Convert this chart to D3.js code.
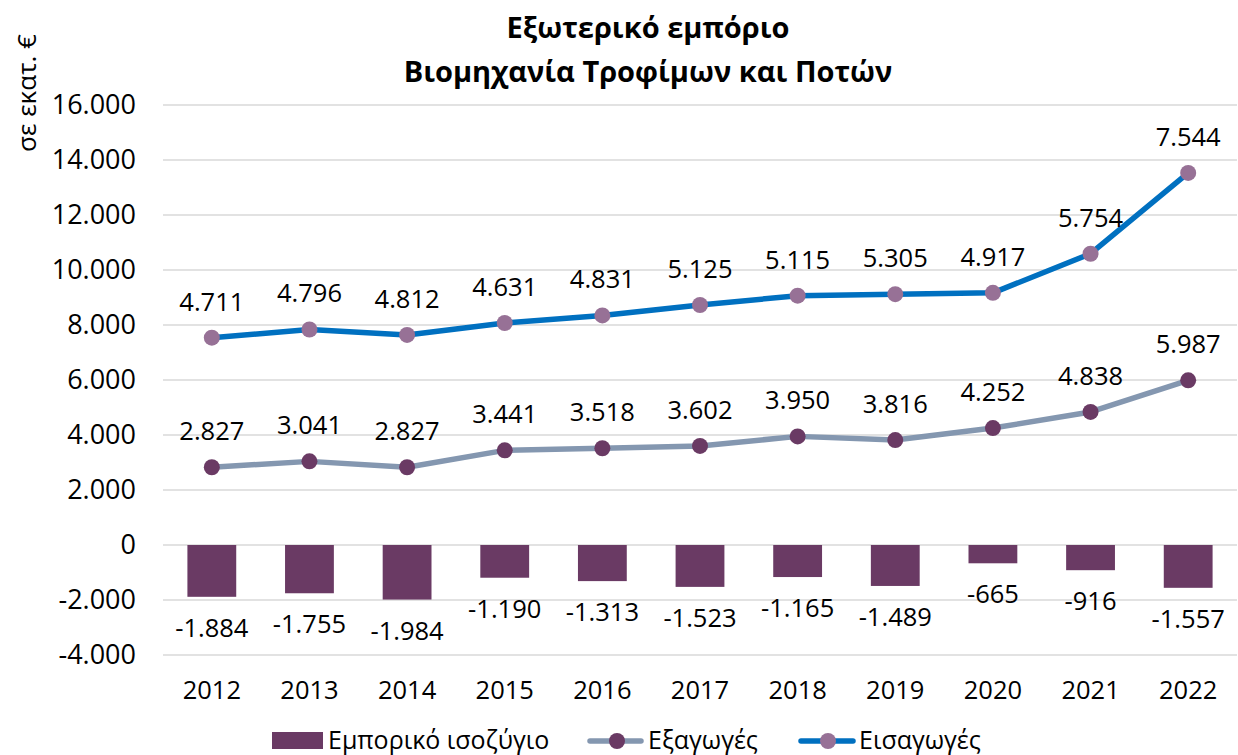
<!DOCTYPE html>
<html>
<head>
<meta charset="utf-8">
<script src="https://cdn.jsdelivr.net/npm/d3@7"></script>
<style>
  body { margin: 0; background: #fff; }
  text { font-family: "Open Sans", "Liberation Sans", Arial, sans-serif; fill: #000; }
</style>
</head>
<body>
<div id="chart"></div>
<script>
// Data
const years = ["2012", "2013", "2014", "2015", "2016", "2017", "2018", "2019", "2020", "2021", "2022"];
const exportsVals = [2827, 3041, 2827, 3441, 3518, 3602, 3950, 3816, 4252, 4838, 5987];
const importsVals = [4711, 4796, 4812, 4631, 4831, 5125, 5115, 5305, 4917, 5754, 7544];
const balanceVals = [-1884, -1755, -1984, -1190, -1313, -1523, -1165, -1489, -665, -916, -1557];
const yTicks = [-4000, -2000, 0, 2000, 4000, 6000, 8000, 10000, 12000, 14000, 16000];

const W = 1238, H = 755;
const margin = { top: 105, right: 1, bottom: 100, left: 163 };
const width = W - margin.left - margin.right;   // 1074
const height = 550;
const font = "'Open Sans', 'Liberation Sans', Arial, sans-serif";

const locale = d3.formatLocale({ decimal: ",", thousands: ".", grouping: [3], currency: ["", "€"], minus: "-" });
const fmt = locale.format(",d");

const svg = d3.select("#chart").append("svg")
    .attr("width", W)
    .attr("height", H);

// Title
svg.append("text").attr("x", 648).attr("y", 38).attr("text-anchor", "middle")
    .style("font-size", "29px").style("font-weight", "bold").text("Εξωτερικό εμπόριο");
svg.append("text").attr("x", 648).attr("y", 82).attr("text-anchor", "middle")
    .style("font-size", "29px").style("font-weight", "bold").text("Βιομηχανία Τροφίμων και Ποτών");

// Y axis title
svg.append("text").attr("transform", "translate(36,93) rotate(-90)")
    .attr("text-anchor", "middle").style("font-size", "26px").text("σε εκατ. €");

const g = svg.append("g").attr("transform", `translate(${margin.left},${margin.top})`);

const x = d3.scaleBand().domain(years).range([0, width]).paddingInner(0.5).paddingOuter(0.25);
const xc = d => x(d) + x.bandwidth() / 2;
const y = d3.scaleLinear().domain([-4000, 16000]).range([height, 0]);

// Gridlines
g.append("g").selectAll("line").data(yTicks).join("line")
    .attr("x1", 0).attr("x2", width)
    .attr("y1", d => y(d)).attr("y2", d => y(d))
    .attr("stroke", "#D9D9D9").attr("stroke-width", 1.3);

// Y axis labels
const yAxis = g.append("g")
    .call(d3.axisLeft(y).tickValues(yTicks).tickFormat(fmt).tickSize(0).tickPadding(27));
yAxis.select(".domain").remove();
yAxis.selectAll("text").style("font-size", "27px").style("font-family", font).attr("fill", "#000");

// X axis labels
const xAxis = g.append("g").attr("transform", `translate(0,${height})`)
    .call(d3.axisBottom(x).tickSize(0).tickPadding(26));
xAxis.select(".domain").remove();
xAxis.selectAll("text").style("font-size", "25.5px").style("font-family", font).attr("fill", "#000");

// Bars: trade balance
g.selectAll(".bar").data(balanceVals).join("rect")
    .attr("class", "bar")
    .attr("x", (d, i) => x(years[i]))
    .attr("width", x.bandwidth())
    .attr("y", d => y(Math.max(0, d)))
    .attr("height", d => Math.abs(y(d) - y(0)))
    .attr("fill", "#6A3A64");

// Lines (imports stacked on top of exports)
const stackedImports = importsVals.map((v, i) => v + exportsVals[i]);

const line = d3.line().x((d, i) => xc(years[i])).y(d => y(d));

g.append("path").datum(exportsVals)
    .attr("fill", "none").attr("stroke", "#8497B0").attr("stroke-width", 5.5)
    .attr("stroke-linejoin", "round").attr("d", line);

g.append("path").datum(stackedImports)
    .attr("fill", "none").attr("stroke", "#0070C0").attr("stroke-width", 5.5)
    .attr("stroke-linejoin", "round").attr("d", line);

g.selectAll(".dotExp").data(exportsVals).join("circle")
    .attr("class", "dotExp")
    .attr("cx", (d, i) => xc(years[i])).attr("cy", d => y(d)).attr("r", 8)
    .attr("fill", "#6A3A64");

g.selectAll(".dotImp").data(stackedImports).join("circle")
    .attr("class", "dotImp")
    .attr("cx", (d, i) => xc(years[i])).attr("cy", d => y(d)).attr("r", 8)
    .attr("fill", "#977196");

// Data labels
g.selectAll(".lblExp").data(exportsVals).join("text")
    .attr("x", (d, i) => xc(years[i])).attr("y", d => y(d) - 27)
    .attr("text-anchor", "middle").style("font-size", "25.5px").text(d => fmt(d));

g.selectAll(".lblImp").data(importsVals).join("text")
    .attr("x", (d, i) => xc(years[i])).attr("y", (d, i) => y(stackedImports[i]) - 27)
    .attr("text-anchor", "middle").style("font-size", "25.5px").text(d => fmt(d));

g.selectAll(".lblBal").data(balanceVals).join("text")
    .attr("x", (d, i) => xc(years[i])).attr("y", d => y(d) + 40)
    .attr("text-anchor", "middle").style("font-size", "25.5px").text(d => fmt(d));

// Legend
const legend = svg.append("g").attr("transform", "translate(0,749)");
legend.append("rect").attr("x", 272).attr("y", -17).attr("width", 51).attr("height", 17).attr("fill", "#6A3A64");
legend.append("text").attr("x", 328).attr("y", 0).style("font-size", "25px").text("Εμπορικό ισοζύγιο");

legend.append("line").attr("x1", 590).attr("x2", 641).attr("y1", -8).attr("y2", -8)
    .attr("stroke", "#8497B0").attr("stroke-width", 5.5).attr("stroke-linecap", "round");
legend.append("circle").attr("cx", 617).attr("cy", -8).attr("r", 8).attr("fill", "#6A3A64");
legend.append("text").attr("x", 648).attr("y", 0).style("font-size", "25px").text("Εξαγωγές");

legend.append("line").attr("x1", 801).attr("x2", 853).attr("y1", -8).attr("y2", -8)
    .attr("stroke", "#0070C0").attr("stroke-width", 5.5).attr("stroke-linecap", "round");
legend.append("circle").attr("cx", 828).attr("cy", -8).attr("r", 8).attr("fill", "#977196");
legend.append("text").attr("x", 859).attr("y", 0).style("font-size", "25px").text("Εισαγωγές");
</script>
</body>
</html>
